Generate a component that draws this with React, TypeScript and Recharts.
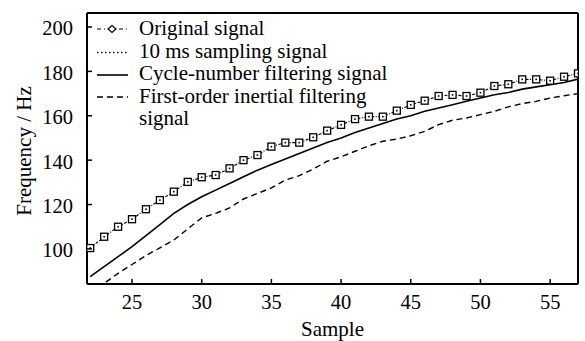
import React from 'react';
import { LineChart, Line, XAxis, YAxis, Legend, ReferenceLine, Label } from 'recharts';

const samples = [
  22, 23, 24, 25, 26, 27, 28, 29, 30, 31, 32, 33, 34, 35, 36, 37, 38, 39,
  40, 41, 42, 43, 44, 45, 46, 47, 48, 49, 50, 51, 52, 53, 54, 55, 56, 57,
];
const originalSignal = [
  100.4, 105.5, 110, 113.4, 117.9, 122, 125.8, 130.2, 132.3, 133.3, 136.3, 140,
  142.3, 146.1, 147.9, 147.9, 150.3, 153.3, 155.9, 158.5, 159.6, 159.6, 162.3, 164.9,
  166.8, 168.9, 169.4, 168.9, 170.4, 173.4, 174.2, 176.4, 176.4, 175.8, 177.6, 179.1,
];
const sampledSignal = [
  100.4, 105.5, 110, 113.4, 117.9, 122, 125.8, 130.2, 132.3, 133.3, 136.3, 140,
  142.3, 146.1, 147.9, 147.9, 150.3, 153.3, 155.9, 158.5, 159.6, 159.6, 162.3, 164.9,
  166.8, 168.9, 169.4, 168.9, 170.4, 173.4, 174.2, 176.4, 176.4, 175.8, 177.6, 179.1,
];
const cycleFiltered = [
  87.5, 92, 96.5, 101, 106, 111, 116, 120, 123.5, 126.5, 129.5, 132.5,
  135.5, 138, 140.5, 143, 145.5, 148, 150, 152.5, 154.5, 156.5, 158.5, 160,
  162, 163.5, 165, 166.5, 168, 169.5, 170.5, 172, 173, 174, 175, 176.5,
];
const inertialFiltered = [
  79.5, 84.5, 89, 93, 97, 100.5, 104, 109, 114, 116, 118.5, 122.5,
  125, 127.5, 131, 133, 136, 139.5, 141.5, 144, 146.5, 148.5, 149.5, 151,
  153, 156, 158, 159, 160.5, 162, 164, 165.5, 166.5, 168, 169, 170,
];
const xTicks = [25, 30, 35, 40, 45, 50, 55];
const yTicks = [100, 120, 140, 160, 180, 200];
const legendLabels = [
  'Original signal',
  '10 ms sampling signal',
  'Cycle-number filtering signal',
  'First-order inertial filtering',
  'signal',
];
const xTitle = 'Sample';
const yTitle = 'Frequency / Hz';

const xDomain = [21.77, 57];
const yDomain = [84.2, 206.3];

const data = samples.map((s, i) => ({
  sample: s,
  original: originalSignal[i],
  sampled: sampledSignal[i],
  cycle: cycleFiltered[i],
  inertial: inertialFiltered[i],
}));

const FONT = '"Liberation Serif", "Times New Roman", serif';

function SquareDot(props: any) {
  const { cx, cy } = props;
  if (cx == null || cy == null) return null;
  return (
    <g>
      <rect x={cx - 3.5} y={cy - 3.5} width={7} height={7} fill='#fff' stroke='#000' strokeWidth={1.3} />
      <rect x={cx - 0.8} y={cy - 0.8} width={1.6} height={1.6} fill='#000' />
    </g>
  );
}

function YTick(props: any) {
  const { x, y, payload } = props;
  return (
    <g>
      <line x1={x + 12} x2={x + 17} y1={y} y2={y} stroke='#000' strokeWidth={1.5} />
      <text x={x - 2} y={y + 8.5} textAnchor='end' fontFamily={FONT} fontSize={20.5} fill='#000'>
        {payload.value}
      </text>
    </g>
  );
}

function XTick(props: any) {
  const { x, y, payload } = props;
  return (
    <g>
      <line x1={x} x2={x} y1={y - 12} y2={y - 17} stroke='#000' strokeWidth={1.5} />
      <text x={x} y={y + 13} textAnchor='middle' fontFamily={FONT} fontSize={20.5} fill='#000'>
        {payload.value}
      </text>
    </g>
  );
}

function XTitle(props: any) {
  const vb = props.viewBox || { x: 87, y: 284, width: 491, height: 57 };
  return (
    <text x={vb.x + vb.width / 2} y={vb.y + 52} textAnchor='middle' fontFamily={FONT} fontSize={21} fill='#000'>
      {xTitle}
    </text>
  );
}

function YTitle(props: any) {
  const vb = props.viewBox || { x: 0, y: 13, width: 87, height: 271 };
  const cx = vb.x + 31;
  const cy = vb.y + vb.height / 2 + 2.5;
  return (
    <text x={cx} y={cy} transform={`rotate(-90, ${cx}, ${cy})`} textAnchor='middle' fontFamily={FONT} fontSize={21} fill='#000'>
      {yTitle}
    </text>
  );
}

function LegendBox() {
  const lineY = [29, 52.5, 75, 97];
  const baseY = [35, 57.5, 80, 102.5, 125];
  return (
    <svg width={585} height={135} style={{ display: 'block' }}>
      <line x1={97} x2={130} y1={lineY[0]} y2={lineY[0]} stroke='#000' strokeWidth={1.2} strokeDasharray='4 3 1 3' />
      <path d={`M108,${lineY[0]} L112,${lineY[0] - 3.5} L116,${lineY[0]} L112,${lineY[0] + 3.5} Z`} fill='#fff' stroke='#000' strokeWidth={1.2} />
      <line x1={97} x2={128} y1={lineY[1]} y2={lineY[1]} stroke='#000' strokeWidth={1.3} strokeDasharray='1.5 2.5' />
      <line x1={97} x2={128} y1={lineY[2]} y2={lineY[2]} stroke='#000' strokeWidth={1.6} />
      <line x1={97} x2={128} y1={lineY[3]} y2={lineY[3]} stroke='#000' strokeWidth={1.4} strokeDasharray='6 4' />
      {legendLabels.map((t, i) => (
        <text key={t} x={139} y={baseY[i]} fontFamily={FONT} fontSize={21} fill='#000'>
          {t}
        </text>
      ))}
    </svg>
  );
}

export default function App() {
  return (
    <div style={{ position: 'absolute', left: 0, top: 0, background: '#fff', fontFamily: FONT }}>
      <LineChart
        width={585}
        height={341}
        data={data}
        margin={{ top: 13, right: 7, bottom: 0, left: 0 }}
      >
        <XAxis
          dataKey='sample'
          type='number'
          domain={xDomain}
          ticks={xTicks}
          allowDataOverflow
          height={57}
          tickLine={false}
          tickSize={0}
          tickMargin={12}
          tick={<XTick />}
          axisLine={{ stroke: '#000', strokeWidth: 2 }}
        >
          <Label content={<XTitle />} />
        </XAxis>
        <YAxis
          type='number'
          domain={yDomain}
          ticks={yTicks}
          allowDataOverflow
          width={87}
          tickLine={false}
          tickSize={0}
          tickMargin={12}
          tick={<YTick />}
          axisLine={{ stroke: '#000', strokeWidth: 2 }}
        >
          <Label content={<YTitle />} />
        </YAxis>
        <ReferenceLine y={yDomain[1]} stroke='#000' strokeWidth={2} />
        <ReferenceLine x={xDomain[1]} stroke='#000' strokeWidth={2} />
        <Legend layout='vertical' align='center' verticalAlign='middle' wrapperStyle={{ position: 'absolute', left: 0, top: 0, width: 585, height: 135 }} content={() => <LegendBox />} />
        <Line dataKey='inertial' stroke='#000' strokeWidth={1.4} strokeDasharray='6 4' dot={false} isAnimationActive={false} />
        <Line dataKey='cycle' stroke='#000' strokeWidth={1.6} dot={false} isAnimationActive={false} />
        <Line dataKey='original' stroke='#000' strokeWidth={1.1} strokeDasharray='3 1.5 1 1.5' dot={false} isAnimationActive={false} />
        <Line dataKey='sampled' stroke='none' dot={<SquareDot />} isAnimationActive={false} />
      </LineChart>
    </div>
  );
}
